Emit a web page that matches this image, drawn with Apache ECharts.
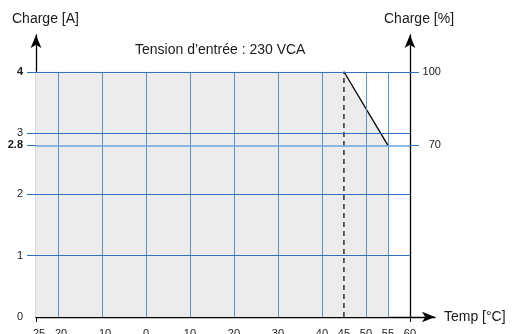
<!DOCTYPE html>
<html>
<head>
<meta charset="utf-8">
<script src="https://cdn.jsdelivr.net/npm/echarts@6/dist/echarts.min.js"></script>
<style>
  html, body { margin: 0; padding: 0; background: #fff; }
  #chart { width: 513px; height: 334px; }
</style>
</head>
<body>
<div id="chart"></div>
<script>
// Derating curve: load current vs ambient temperature
const curveTemp = [-25, 45, 55, 55];
const curveLoad = [4, 4, 2.8, 0];
const kneeTemp = 45;
const xTickValues = [-25, -20, -10, 0, 10, 20, 30, 40, 45, 50, 55, 60];
const xGridValues = [-20, -10, 0, 10, 20, 30, 40, 50, 55];
const xEdgeTicks = [-25, 60];
const yTickValues = [0, 1, 2, 2.8, 3, 4];
const yBoldValues = [4, 2.8];
const yGridValues = [1, 2, 3, 2.8, 4];
const pctTickValues = [70, 100];
const ampToPct = 25;          // 4 A == 100 %
const xMin = -25, xEnd = 60, xArrow = 65.7;
const yMin = 0, yTop = 4, yArrow = 4.6;

const FONT = 'Liberation Sans, Arial, sans-serif';
const TXT = '#1a1a1a';
const LINE_H = '#2f72bb';
const LINE_V = '#5596d2';
const FILL = '#ececec';

const areaData = curveTemp.map((t, i) => [t, curveLoad[i]]);
const slopeData = [areaData[1], areaData[2]];
const dashData = [[kneeTemp, yMin], [kneeTemp, curveLoad[1]]];

const vLines = xGridValues.map(x => [{ coord: [x, yMin] }, { coord: [x, yTop] }]);
const hLines = yGridValues.map(y => [
  { coord: [xMin, y], lineStyle: y === 2.8 ? { color: '#6aa5dc', width: 1.6 } : {} },
  { coord: [xEnd, y] }
]);

const chart = echarts.init(document.getElementById('chart'), null, { renderer: 'canvas' });

function buildOption(rightOffset) {
  return {
    animation: false,
    backgroundColor: '#fff',
    textStyle: { fontFamily: FONT },
    grid: { left: 36, right: 78, top: 35, bottom: 17, containLabel: false, outerBoundsMode: 'none' },
    graphic: [
      { type: 'text', left: 135, top: 43, style: { text: 'Tension d\u2019entrée : 230 VCA', font: '14px ' + FONT, fill: TXT } },
      { type: 'text', left: 12, top: 12, style: { text: 'Charge [A]', font: '14px ' + FONT, fill: TXT } },
      { type: 'text', left: 384, top: 12, style: { text: 'Charge [%]', font: '14px ' + FONT, fill: TXT } }
    ],
    xAxis: {
      type: 'value', min: xMin, max: xArrow,
      name: 'Temp [°C]', nameLocation: 'end', nameGap: 9,
      nameTextStyle: { fontSize: 14, color: TXT, fontFamily: FONT, verticalAlign: 'middle' },
      axisLine: { show: true, onZero: false, symbol: ['none', 'arrow'], symbolSize: [8, 13], lineStyle: { color: '#000', width: 1.3 } },
      axisTick: { show: true, customValues: xEdgeTicks, length: 5, lineStyle: { color: '#000' } },
      axisLabel: {
        customValues: xTickValues, fontSize: 11, color: TXT, margin: 11, verticalAlign: 'top',
        formatter: v => (v < 0 ? '\u2013' + Math.abs(v) : String(v))
      },
      splitLine: { show: false }
    },
    yAxis: [
      {
        type: 'value', min: yMin, max: yArrow, position: 'left',
        axisLine: { show: true, onZero: false, symbol: ['none', 'arrow'], symbolSize: [8, 13], lineStyle: { color: '#000', width: 1.3 } },
        axisTick: { show: true, customValues: yGridValues, length: 9, lineStyle: { color: LINE_H } },
        axisLabel: {
          customValues: yTickValues, fontSize: 11, color: TXT, margin: 13,
          formatter: v => (yBoldValues.includes(v) ? '{b|' + v + '}' : String(v)),
          rich: { b: { fontWeight: 'bold', fontSize: 11, color: TXT, fontFamily: FONT } }
        },
        splitLine: { show: false }
      },
      {
        type: 'value', min: yMin * ampToPct, max: yArrow * ampToPct, position: 'right', offset: rightOffset,
        axisLine: { show: true, onZero: false, symbol: ['none', 'arrow'], symbolSize: [8, 13], lineStyle: { color: '#000', width: 1.3 } },
        axisTick: { show: true, customValues: pctTickValues, length: 9, lineStyle: { color: LINE_H } },
        axisLabel: { customValues: pctTickValues, fontSize: 11, color: TXT, margin: 31, align: 'right' },
        splitLine: { show: false }
      }
    ],
    series: [
      {
        name: 'zone', type: 'line', z: 1, data: areaData, symbol: 'none', silent: true,
        lineStyle: { width: 0 }, areaStyle: { color: FILL, opacity: 1 }
      },
      {
        name: 'grid', type: 'line', z: 2, data: [], silent: true,
        markLine: {
          silent: true, symbol: 'none', label: { show: false },
          lineStyle: { color: LINE_V, width: 1, type: 'solid' },
          data: vLines
        }
      },
      {
        name: 'gridH', type: 'line', z: 3, data: [], silent: true,
        markLine: {
          silent: true, symbol: 'none', label: { show: false },
          lineStyle: { color: LINE_H, width: 1.2, type: 'solid' },
          data: hLines
        }
      },
      {
        name: 'slope', type: 'line', z: 4, data: slopeData, symbol: 'none', silent: true,
        lineStyle: { color: '#000', width: 1.3 }
      },
      {
        name: 'knee', type: 'line', z: 4, data: dashData, symbol: 'none', silent: true,
        lineStyle: { color: '#000', width: 1.2, type: [5, 4] }
      }
    ]
  };
}

chart.setOption(buildOption(0));
// Place the right-hand axis at the end of the temperature range
const pxEnd = chart.convertToPixel({ xAxisIndex: 0 }, xEnd);
const pxArrow = chart.convertToPixel({ xAxisIndex: 0 }, xArrow);
chart.setOption(buildOption(-(pxArrow - pxEnd)));
</script>
</body>
</html>
